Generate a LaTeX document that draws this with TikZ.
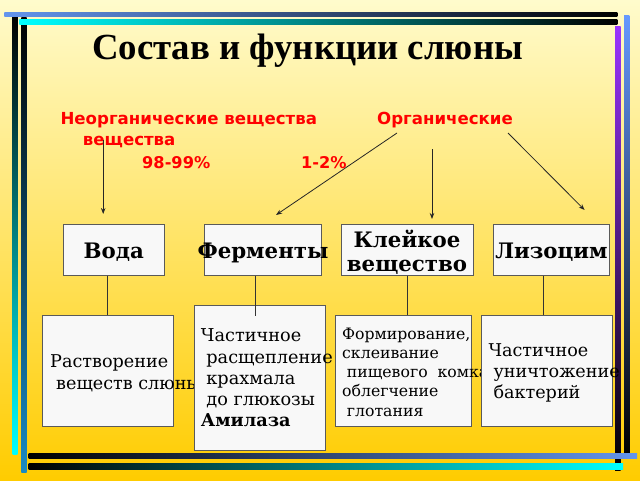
\documentclass[tikz,border=0pt]{standalone}
\usepackage{fontspec}
\setmainfont{DejaVu Serif}
\newfontfamily\titlefont{Liberation Serif}
\newfontfamily\redsans{DejaVu Sans}
\usetikzlibrary{arrows.meta}
\definecolor{bgtop}{HTML}{FFFBCC}
\definecolor{bgbot}{HTML}{FFCC00}
\definecolor{cfblue}{HTML}{6495ED}
\definecolor{lblue}{HTML}{6699FF}
\definecolor{purp}{HTML}{9933FF}
\definecolor{teal}{HTML}{1A8AC2}
\definecolor{boxfill}{HTML}{F8F8F8}
\definecolor{boxline}{HTML}{5A5A5A}
\definecolor{redtxt}{HTML}{FF0000}
\begin{document}
\begin{tikzpicture}[x=1pt,y=-1pt,
  box/.style={draw=boxline, fill=boxfill, line width=1pt, inner sep=0pt},
  toplab/.style={font=\bfseries\fontsize{21.3}{24}\selectfont, inner sep=0pt, yshift=-3pt},
  btxt/.style={inner sep=0pt, anchor=base west},
  redlab/.style={inner sep=0pt, anchor=base west, text=redtxt, font=\redsans\bfseries\fontsize{16.6}{21}\selectfont},
  conn/.style={draw=black!80, line width=0.8pt},
  arr/.style={draw=black!85, line width=0.8pt, -{Stealth[length=6pt,width=4.5pt]}}]
\useasboundingbox (0,0) rectangle (640,480);
\shade[top color=bgtop, bottom color=bgbot] (0,0) rectangle (640,480);
% frame
\shade[top color=black, bottom color=cyan] (12.7,16.7) rectangle (17.3,454);
\shade[top color=black, bottom color=teal] (21.3,17.3) rectangle (26.5,472);
\shade[left color=cfblue, right color=black] (4.3,12.5) rectangle (617.3,16.7);
\shade[left color=cyan, right color=black] (19.3,19.3) rectangle (617.3,24);
\shade[top color=purp, bottom color=black] (615,26.7) rectangle (620.7,470);
\shade[top color=lblue, bottom color=black] (624,15) rectangle (629.3,453.3);
% title
\node[inner sep=0pt, anchor=base, font=\titlefont\bfseries\fontsize{36.8}{40}\selectfont] (title) at (307.6,59.3) {Состав и функции слюны};
% red labels
\node[redlab] (inorg) at (60.4,124) {\begin{tabular}[t]{@{}l@{}}Неорганические вещества\\\hspace*{22.3pt}вещества\end{tabular}};
\node[redlab] (org) at (377,124) {Органические};
\node[redlab, font=\redsans\bfseries\fontsize{16.2}{21}\selectfont] (p1) at (142,168) {98-99\%};
\node[redlab, font=\redsans\bfseries\fontsize{16.2}{21}\selectfont] (p2) at (301,168) {1-2\%};
% arrows
\coordinate (a1s) at (103.2,140);
\coordinate (a1e) at (103.2,214);
\coordinate (a2s) at (397,133);
\coordinate (a2e) at (276,215);
\coordinate (a3s) at (432,149);
\coordinate (a3e) at (432,219);
\coordinate (a4s) at (508,133);
\coordinate (a4e) at (584.6,210);
\draw[arr] (a1s) -- (a1e);
\draw[arr] (a2s) -- (a2e);
\draw[arr] (a3s) -- (a3e);
\draw[arr] (a4s) -- (a4e);
% top boxes
\node[box, minimum width=101.5pt, minimum height=51pt, label={[toplab]center:Вода}] (voda) at (113.75,249.5) {};
\node[box, minimum width=116.5pt, minimum height=51pt, label={[toplab]center:Ферменты}] (ferm) at (263,249.5) {};
\node[box, minimum width=132pt, minimum height=51pt, label={[toplab, align=center]center:Клейкое\\вещество}] (kley) at (407,249.5) {};
\node[box, minimum width=116pt, minimum height=51pt, label={[toplab]center:Лизоцим}] (liz) at (551.5,249.5) {};
% bottom boxes with texts
\node[box, minimum width=131pt, minimum height=110.5pt] (b1) at (107.8,370.75) {};
\node[btxt, font=\fontsize{17.6}{22}\selectfont] (t1) at (50,367.3) {\begin{tabular}[t]{@{}l@{}}Растворение\\\hspace*{6pt}веществ слюны\end{tabular}};
\node[box, minimum width=131pt, minimum height=145pt] (b2) at (259.5,377.5) {};
\node[btxt, font=\fontsize{17.7}{21.3}\selectfont] (t2) at (200.7,341.7) {\begin{tabular}[t]{@{}l@{}}Частичное\\\hspace*{5.5pt}расщепление\\\hspace*{5.5pt}крахмала\\\hspace*{5.5pt}до глюкозы\\\textbf{Амилаза}\end{tabular}};
\node[box, minimum width=136pt, minimum height=111pt] (b3) at (403,371) {};
\node[btxt, font=\fontsize{15.7}{19.2}\selectfont] (t3) at (342,339.3) {\begin{tabular}[t]{@{}l@{}}Формирование,\\склеивание\\\hspace*{4.7pt}пищевого\ \ комка\\облегчение\\\hspace*{4.7pt}глотания\end{tabular}};
\node[box, minimum width=131.4pt, minimum height=111pt] (b4) at (547,371) {};
\node[btxt, font=\fontsize{17.6}{21}\selectfont] (t4) at (488.3,356.7) {\begin{tabular}[t]{@{}l@{}}Частичное\\\hspace*{5pt}уничтожение\\\hspace*{5pt}бактерий\end{tabular}};
% connectors
\draw[conn] (b1.north |- voda.south) -- (b1.north);
\draw[conn] ([xshift=-7.4pt]ferm.south) -- ++(0,40);
\draw[conn] (kley.south) -- (kley.south |- b3.north);
\draw[conn] ([xshift=-3.3pt]b4.north |- liz.south) -- ([xshift=-3.3pt]b4.north);
% bottom frame lines
\shade[left color=black, right color=cfblue] (28.7,453.3) rectangle (637,458.7);
\shade[left color=black, right color=cyan] (28.7,463.3) rectangle (623,469.3);
\end{tikzpicture}
\end{document}
